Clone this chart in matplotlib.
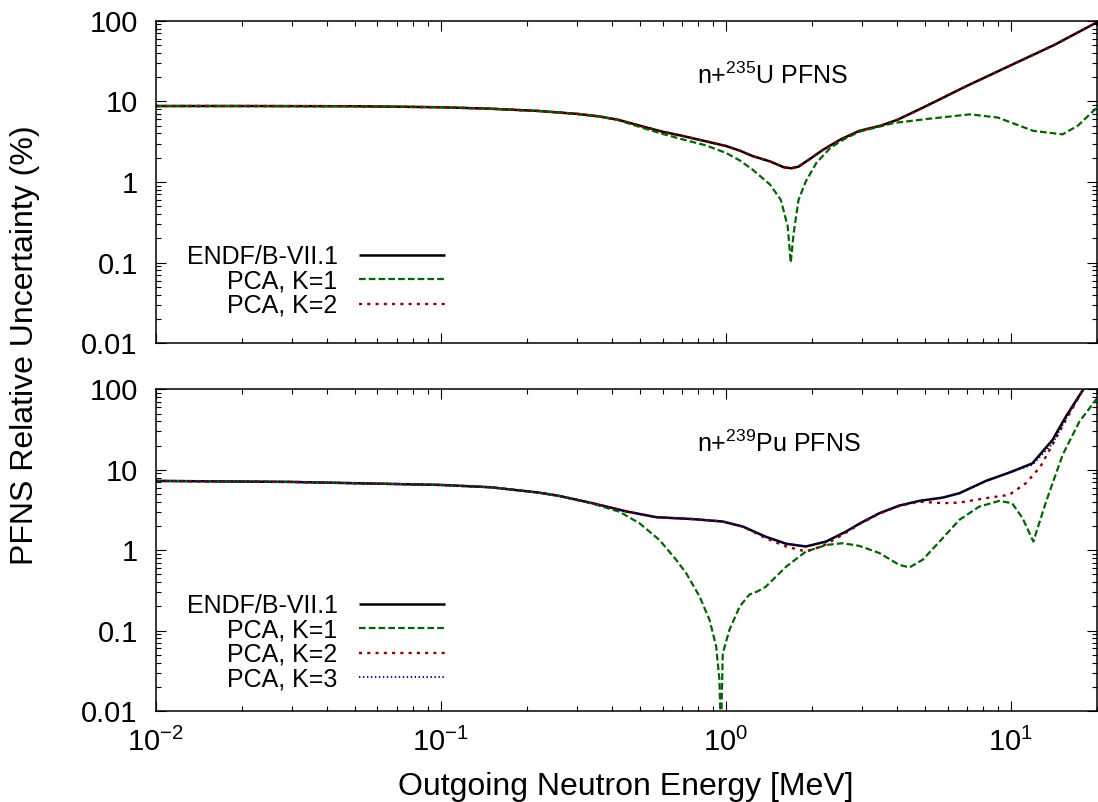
import numpy as np
import matplotlib
matplotlib.use("Agg")
import matplotlib.pyplot as plt
from matplotlib.ticker import LogLocator, FuncFormatter, NullFormatter, FixedLocator

plt.rcParams['font.family'] = ['Liberation Sans', 'DejaVu Sans']
plt.rcParams['mathtext.fontset'] = 'custom'
plt.rcParams['mathtext.rm'] = 'Liberation Sans'
plt.rcParams['mathtext.it'] = 'Liberation Sans:italic'
plt.rcParams['mathtext.bf'] = 'Liberation Sans:bold'

# ---------------- data: n + 235U (top panel) ----------------
u_endf_e = [0.01, 0.02, 0.05, 0.1, 0.15, 0.22, 0.30, 0.36, 0.42, 0.52, 0.60, 0.70, 0.85, 1.0,
            1.12, 1.24, 1.43, 1.60, 1.70, 1.80, 1.96, 2.19, 2.54, 2.94, 3.5, 4.0, 5.0, 7.0,
            10.0, 14.2, 20.0]
u_endf_v = [8.75, 8.75, 8.7, 8.45, 8.1, 7.6, 7.0, 6.5, 5.9, 4.8, 4.2, 3.75, 3.2, 2.8,
            2.45, 2.1, 1.8, 1.52, 1.48, 1.55, 1.9, 2.5, 3.4, 4.3, 5.0, 5.9, 8.6, 15.5,
            28.0, 50.0, 95.0]

u_k1_e = [0.01, 0.02, 0.05, 0.1, 0.15, 0.22, 0.30, 0.36, 0.42, 0.52, 0.60, 0.70, 0.85, 1.0,
          1.12, 1.24, 1.43, 1.56, 1.65, 1.69, 1.73, 1.80, 1.91, 2.08, 2.33, 2.62, 2.94, 3.9,
          5.2, 7.2, 9.0, 12.0, 15.2, 17.2, 20.0]
u_k1_v = [8.75, 8.75, 8.7, 8.45, 8.1, 7.6, 7.0, 6.5, 5.85, 4.6, 3.95, 3.4, 2.85, 2.3,
          1.85, 1.43, 0.93, 0.6, 0.28, 0.10, 0.23, 0.6, 1.02, 1.73, 2.66, 3.45, 4.2, 5.4,
          6.1, 6.9, 6.3, 4.3, 3.9, 5.0, 8.3]

u_k2_e = [0.01, 0.02, 0.05, 0.1, 0.15, 0.22, 0.30, 0.36, 0.42, 0.52, 0.60, 0.70, 0.85, 1.0,
          1.12, 1.24, 1.43, 1.60, 1.70, 1.80, 1.96, 2.19, 2.54, 2.94, 3.5, 4.0, 5.0, 7.0,
          10.0, 14.2, 20.0]
u_k2_v = [8.75, 8.75, 8.7, 8.45, 8.1, 7.6, 7.0, 6.5, 5.9, 4.8, 4.2, 3.75, 3.2, 2.8,
          2.45, 2.1, 1.8, 1.52, 1.48, 1.55, 1.9, 2.5, 3.4, 4.3, 5.0, 5.9, 8.6, 15.5,
          28.0, 50.0, 95.0]

# ---------------- data: n + 239Pu (bottom panel) ----------------
pu_endf_e = [0.01, 0.03, 0.1, 0.15, 0.22, 0.26, 0.34, 0.45, 0.57, 0.77, 0.975, 1.15, 1.38,
             1.63, 1.91, 2.25, 2.64, 2.94, 3.46, 4.06, 4.78, 5.77, 6.6, 8.18, 9.87, 11.9,
             14.0, 15.6, 17.9, 20.0]
pu_endf_v = [7.26, 7.05, 6.47, 6.05, 5.2, 4.73, 3.84, 3.02, 2.57, 2.43, 2.27, 1.96, 1.47,
             1.2, 1.11, 1.28, 1.70, 2.13, 2.88, 3.58, 4.10, 4.5, 5.1, 7.26, 9.2, 12.0,
             23.4, 45.7, 98.0, 140.0]

pu_k1_e = [0.01, 0.03, 0.1, 0.15, 0.22, 0.26, 0.34, 0.424, 0.498, 0.585, 0.67, 0.726, 0.809,
           0.877, 0.925, 0.950, 0.962, 0.976, 1.03, 1.12, 1.21, 1.30, 1.38, 1.63, 1.91,
           2.25, 2.57, 2.94, 3.46, 4.06, 4.41, 4.91, 5.77, 6.6, 7.75, 9.1, 10.1, 11.0,
           12.0, 13.3, 15.2, 17.4, 20.0]
pu_k1_v = [7.26, 7.05, 6.47, 6.05, 5.2, 4.73, 3.8, 3.0, 2.16, 1.34, 0.757, 0.518, 0.266,
           0.136, 0.064, 0.0245, 0.005, 0.052, 0.102, 0.2, 0.28, 0.31, 0.35, 0.625, 0.96,
           1.16, 1.22, 1.13, 0.92, 0.657, 0.61, 0.76, 1.41, 2.38, 3.48, 4.09, 3.84, 2.50,
           1.28, 4.02, 15.3, 39.6, 76.0]

pu_k2_e = [0.01, 0.03, 0.1, 0.15, 0.22, 0.26, 0.34, 0.45, 0.57, 0.77, 0.975, 1.15, 1.38,
           1.63, 1.91, 2.19, 2.57, 2.94, 3.46, 4.06, 4.78, 5.77, 6.6, 8.18, 9.87, 11.3,
           12.7, 14.0, 15.6, 17.9, 20.0]
pu_k2_v = [7.26, 7.05, 6.47, 6.05, 5.2, 4.73, 3.84, 3.02, 2.57, 2.43, 2.27, 1.96, 1.41,
           1.11, 0.96, 1.13, 1.55, 2.1, 2.85, 3.55, 4.0, 3.84, 3.9, 4.43, 4.87, 6.8,
           10.9, 20.5, 41.6, 98.0, 140.0]

pu_k3_e = [0.01, 0.03, 0.1, 0.15, 0.22, 0.26, 0.34, 0.45, 0.57, 0.77, 0.975, 1.15, 1.38,
           1.63, 1.91, 2.25, 2.64, 2.94, 3.46, 4.06, 4.78, 5.77, 6.6, 8.18, 9.87, 11.9,
           14.0, 15.6, 17.9, 20.0]
pu_k3_v = [7.26, 7.05, 6.47, 6.05, 5.2, 4.73, 3.84, 3.02, 2.57, 2.43, 2.27, 1.96, 1.47,
           1.2, 1.11, 1.28, 1.70, 2.13, 2.88, 3.58, 4.10, 4.5, 5.1, 7.26, 9.2, 11.5,
           21.0, 43.0, 96.0, 140.0]

labels_u = ["ENDF/B-VII.1", "PCA, K=1", "PCA, K=2"]
labels_pu = ["ENDF/B-VII.1", "PCA, K=1", "PCA, K=2", "PCA, K=3"]
x_ticks = [0.01, 0.1, 1, 10]
y_ticks = [0.01, 0.1, 1, 10, 100]
y_ticklabels = ["0.01", "0.1", "1", "10", "100"]

# ---------------- styles ----------------
st_endf = dict(color='black', lw=1.8, solid_capstyle='butt')
st_k1 = dict(color='#006400', lw=1.6, linestyle=(0, (3.0, 1.4)))
st_k2 = dict(color='#8B0000', lw=1.7, linestyle=(0, (1.3, 2.2)))
st_k3 = dict(color='#00008B', lw=1.3, linestyle=(0, (0.8, 1.4)))

W, H = 1098, 802
fig = plt.figure(figsize=(W / 100, H / 100), dpi=100)

left = 155.7 / W
width = (1096.6 - 155.7) / W
ax1 = fig.add_axes([left, 1 - 343.3 / H, width, (343.3 - 20.7) / H])
ax2 = fig.add_axes([left, 1 - 711.0 / H, width, (711.0 - 389.3) / H])


def ylab(v, p):
    i = int(np.argmin([abs(np.log10(t) - np.log10(v)) for t in y_ticks]))
    return y_ticklabels[i]


def style_axis(ax, show_x):
    ax.set_xscale('log')
    ax.set_yscale('log')
    ax.set_xlim(0.01, 20)
    ax.set_ylim(0.01, 100)
    ax.xaxis.set_major_locator(FixedLocator(x_ticks))
    ax.xaxis.set_minor_locator(LogLocator(base=10, subs=np.arange(2, 10), numticks=100))
    ax.yaxis.set_major_locator(FixedLocator(y_ticks))
    ax.yaxis.set_minor_locator(LogLocator(base=10, subs=np.arange(2, 10), numticks=100))
    ax.yaxis.set_major_formatter(FuncFormatter(ylab))
    ax.yaxis.set_minor_formatter(NullFormatter())
    ax.xaxis.set_minor_formatter(NullFormatter())
    if show_x:
        ax.xaxis.set_major_formatter(FuncFormatter(
            lambda v, p: r'$\mathregular{10^{%d}}$' % int(round(np.log10(v)))))
    else:
        ax.xaxis.set_major_formatter(NullFormatter())
    ax.tick_params(which='both', direction='in', top=True, right=True, width=0.8)
    ax.tick_params(which='major', length=7)
    ax.tick_params(which='minor', length=3.5)
    ax.tick_params(axis='y', which='major', labelsize=21, pad=13)
    ax.tick_params(axis='x', which='major', labelsize=21, pad=12)
    for s in ax.spines.values():
        s.set_linewidth(1.1)


style_axis(ax1, False)
style_axis(ax2, True)

h1 = ax1.plot(u_endf_e, u_endf_v, label=labels_u[0], **st_endf)[0]
h2 = ax1.plot(u_k1_e, u_k1_v, label=labels_u[1], **st_k1)[0]
h3 = ax1.plot(u_k2_e, u_k2_v, label=labels_u[2], **st_k2)[0]

g1 = ax2.plot(pu_endf_e, pu_endf_v, label=labels_pu[0], **st_endf)[0]
g2 = ax2.plot(pu_k1_e, pu_k1_v, label=labels_pu[1], **st_k1)[0]
g3 = ax2.plot(pu_k2_e, pu_k2_v, label=labels_pu[2], **st_k2)[0]
g4 = ax2.plot(pu_k3_e, pu_k3_v, label=labels_pu[3], **st_k3)[0]

leg_kw = dict(markerfirst=False, frameon=False, fontsize=18, handlelength=3.44,
              handletextpad=0.84, labelspacing=0.02, borderpad=0, borderaxespad=0,
              loc='upper right')
ax1.legend(handles=[h1, h2, h3], bbox_to_anchor=(0.307, 0.306), **leg_kw)
ax2.legend(handles=[g1, g2, g3, g4], bbox_to_anchor=(0.307, 0.365), **leg_kw)

ax1.text(0.575, 0.83, r'n+$^{\mathregular{235}}$U PFNS', transform=ax1.transAxes,
         fontsize=18, ha='left', va='center')
ax2.text(0.575, 0.83, r'n+$^{\mathregular{239}}$Pu PFNS', transform=ax2.transAxes,
         fontsize=18, ha='left', va='center')

fig.text(25 / W, 1 - 345 / H, 'PFNS Relative Uncertainty (%)', rotation=90,
         ha='center', va='center', fontsize=23)
fig.text(626 / W, 1 - 795 / H, 'Outgoing Neutron Energy [MeV]', ha='center',
         va='baseline', fontsize=23)

fig.savefig('out.png', dpi=100)
